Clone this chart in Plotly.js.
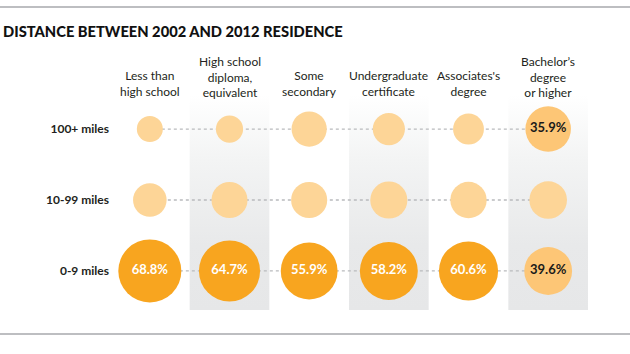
<!DOCTYPE html>
<html>
<head>
<meta charset="utf-8">
<script src="https://cdn.plot.ly/plotly-3.0.1.min.js"></script>
<style>html,body{margin:0;padding:0;background:#fff;}#chart{width:630px;height:354px;}</style>
</head>
<body>
<div id="chart"></div>
<script>
// ---- data ----
const education = ["Less than<br>high school", "High school<br>diploma,<br>equivalent", "Some<br>secondary",
                   "Undergraduate<br>certificate", "Associates's<br>degree", "Bachelor’s<br>degree<br>or higher"];
const distanceBands = ["0-9 miles", "10-99 miles", "100+ miles"];
const near = [68.8, 64.7, 55.9, 58.2, 60.6, 39.6];     // 0-9 miles (%)
const mid  = [19.5, 22.5, 22.6, 23.9, 22.9, 24.5];     // 10-99 miles (%) estimated
const far  = [11.7, 12.8, 21.5, 17.9, 16.5, 35.9];     // 100+ miles (%) estimated
const shadedColumns = [1, 3, 5];
const highlightColumn = 5;
const titleText = "DISTANCE BETWEEN 2002 AND 2012 RESIDENCE";

// ---- layout constants ----
const W = 630, H = 354;
const M = {l: 110, r: 42, t: 95, b: 44};
const pw = W - M.l - M.r, ph = H - M.t - M.b;
const xRange = [-0.5, education.length - 0.5];
const yRange = [-0.55, 2.48];
const px2x = p => (p - M.l) / pw;
const px2y = p => (H - M.b - p) / ph;
const SIZE_K = 7.6;
const FONT = "Lato, 'Open Sans', sans-serif";

const DARK = "#F8A51F", LIGHT = "#FDD597", HILITE = "#FDC676";
const xs = education.map((_, i) => i);
const rows = [near, mid, far];

const traces = [];

// shaded column backgrounds with vertical gradient
shadedColumns.forEach(i => {
  traces.push({
    type: "scatter", mode: "lines", hoverinfo: "skip", showlegend: false,
    x: [i - 0.5, i + 0.5, i + 0.5, i - 0.5, i - 0.5],
    y: [yRange[0], yRange[0], yRange[1], yRange[1], yRange[0]],
    line: {width: 0}, fill: "toself",
    fillgradient: {type: "vertical", colorscale: [[0, "#E6E7E8"], [0.3, "#E8E9EA"], [0.7, "#F3F4F4"], [1, "#FFFFFF"]]}
  });
});

// dotted connector lines
rows.forEach((vals, r) => {
  traces.push({
    type: "scatter", mode: "lines", hoverinfo: "skip", showlegend: false,
    x: xs, y: xs.map(() => r),
    line: {color: "#B9BBBD", width: 1.3, dash: "dot"}
  });
});

// bubbles
rows.forEach((vals, r) => {
  const colors = vals.map((v, i) => r === 0 ? (i === highlightColumn ? HILITE : DARK)
                                             : (r === 2 && i === highlightColumn ? HILITE : LIGHT));
  const labels = vals.map((v, i) => (r === 0 || (r === 2 && i === highlightColumn)) ? v.toFixed(1) + "%" : "");
  const tcol = vals.map((v, i) => i === highlightColumn ? "#1a1a1a" : "#ffffff");
  traces.push({
    type: "scatter", mode: "markers+text", hoverinfo: "skip", showlegend: false,
    x: xs, y: xs.map(() => r),
    marker: {size: vals.map(v => SIZE_K * Math.sqrt(v)), color: colors, line: {width: 0}, opacity: 1},
    text: labels, textposition: "middle center",
    textfont: {family: FONT, size: 13, color: tcol, weight: 700}
  });
});

const annotations = [];
education.forEach((lab, i) => {
  const n = lab.split("<br>").length;
  annotations.push({
    xref: "x", yref: "paper", x: i, y: px2y(90.5 - (n - 1) * 13.5 / 2),
    xanchor: "center", yanchor: "middle", borderpad: 0,
    text: lab, showarrow: false, align: "center",
    font: {family: FONT, size: 12, color: "#231F20"}
  });
});
annotations.push({
  xref: "paper", yref: "paper", x: px2x(1), y: px2y(31), xanchor: "left", yanchor: "middle",
  text: titleText, showarrow: false,
  font: {family: FONT, size: 14.7, color: "#111", weight: 900}
});

const shapes = [7, 334].map(py => ({
  type: "line", xref: "paper", yref: "paper",
  x0: px2x(0), x1: px2x(W), y0: px2y(py), y1: px2y(py),
  line: {color: "#A7A9AC", width: 1.5}
}));

const layout = {
  width: W, height: H, margin: M,
  paper_bgcolor: "#fff", plot_bgcolor: "rgba(0,0,0,0)",
  showlegend: false,
  xaxis: {range: xRange, showgrid: false, zeroline: false, showline: false, showticklabels: false, ticks: ""},
  yaxis: {range: yRange, showgrid: false, zeroline: false, showline: false, ticks: "",
          tickvals: distanceBands.map((_, i) => i), ticktext: distanceBands,
          tickfont: {family: FONT, size: 12, color: "#231F20", weight: 700}},
  annotations: annotations, shapes: shapes
};

Plotly.newPlot("chart", traces, layout, {staticPlot: true, displayModeBar: false});
</script>
</body>
</html>
